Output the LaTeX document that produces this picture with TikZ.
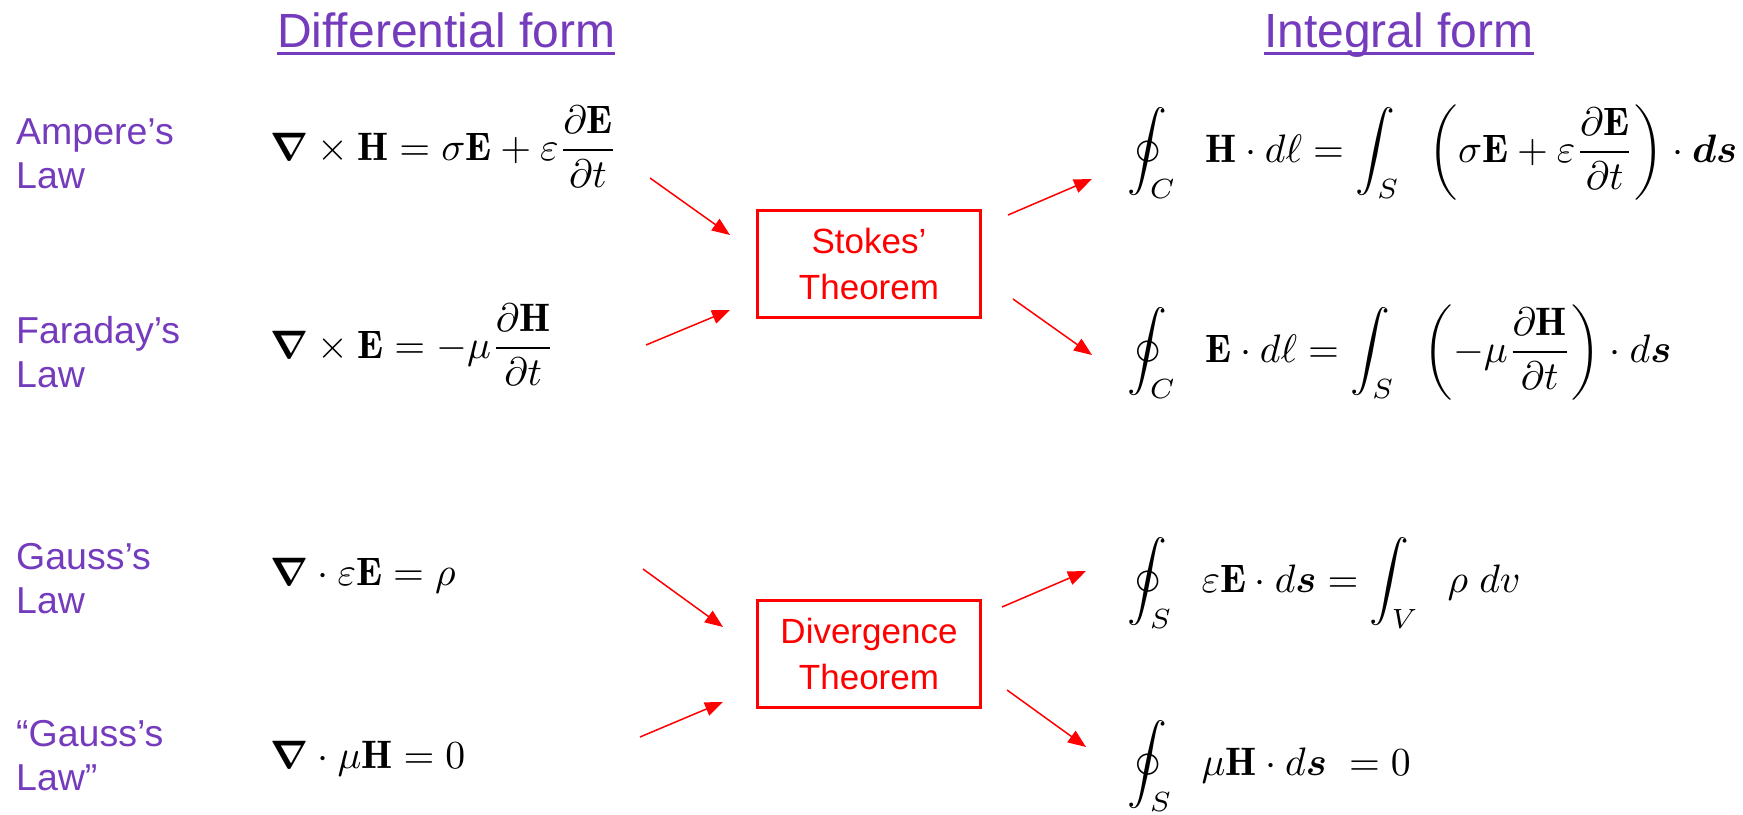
\documentclass[tikz,border=0pt]{standalone}
\usepackage{amsmath,bm}
\usepackage{fontspec}
\setsansfont{Liberation Sans}
\usepackage{tikz}
\usetikzlibrary{arrows.meta,positioning}
\definecolor{lawpurple}{RGB}{117,59,189}
\tikzset{
lawlabel/.style={font=\fontsize{37.5}{44}\selectfont\sffamily,text=lawpurple,align=left,inner sep=0pt,anchor=base west},
formhead/.style={font=\fontsize{48}{55}\selectfont\sffamily,text=lawpurple,inner sep=0pt,anchor=base west},
formline/.style={draw=lawpurple,line width=3pt},
eqn/.style={inner sep=0pt,anchor=base west,scale=3.97,transform shape},
thmbox/.style={rectangle,draw=red,line width=2.7pt,text=red,font=\fontsize{35}{46}\selectfont\sffamily,align=center,inner sep=0pt,minimum width=223pt,minimum height=107pt},
thmarr/.style={red,line width=1.5pt,-{Triangle[length=18pt,width=14pt]}}
}
\begin{document}
\begin{tikzpicture}[
x=1pt,
y=-1pt
]
\useasboundingbox (0,0) rectangle (1743,814);
% headings
\node[formhead] (diffhead) at (277,47) {Differential form};
\node[formhead] (inthead) at (1264,47) {Integral form};
\draw[formline] ([yshift=-6pt]diffhead.base west) -- ([yshift=-6pt]diffhead.base east);
\draw[formline] ([yshift=-6pt]inthead.base west) -- ([yshift=-6pt]inthead.base east);
% law names (base = last line)
\node[lawlabel] (ampere) at (16,188) {Ampere’s\\Law};
\node[lawlabel] (faraday) at (16,387) {Faraday’s\\Law};
\node[lawlabel] (gausse) at (16,613) {Gauss’s\\Law};
\node[lawlabel] (gaussh) at (16,790) {“Gauss’s\\Law”};
% differential form
\node[eqn] (ampdiff) at (270,160)
  {$\bm{\nabla}\times\mathbf{H}=\sigma\mathbf{E}+\varepsilon\dfrac{\partial\mathbf{E}}{\partial t}$};
\node[eqn] (fardiff) at (270,358)
  {$\bm{\nabla}\times\mathbf{E}=-\mu\dfrac{\partial\mathbf{H}}{\partial t}$};
\node[eqn] (gausediff) at (270,585)
  {$\bm{\nabla}\cdot\varepsilon\mathbf{E}=\rho$};
\node[eqn] (gausshdiff) at (270,768)
  {$\bm{\nabla}\cdot\mu\mathbf{H}=0$};
% integral form
\node[eqn] (ampint) at (1127,162)
  {$\displaystyle\oint_C\;\;\mathbf{H}\cdot d\ell=\int_S\;\;\left(\sigma\mathbf{E}+\varepsilon\frac{\partial\mathbf{E}}{\partial t}\right)\cdot\bm{ds}$};
\node[eqn] (farint) at (1127,362)
  {$\displaystyle\oint_C\;\;\mathbf{E}\cdot d\ell=\int_S\;\;\left(-\mu\frac{\partial\mathbf{H}}{\partial t}\right)\cdot d\bm{s}$};
\node[eqn] (gauseint) at (1127,592)
  {$\displaystyle\oint_S\;\;\varepsilon\mathbf{E}\cdot d\bm{s}=\int_V\;\;\rho\;dv$};
\node[eqn] (gausshint) at (1127,775)
  {$\displaystyle\oint_S\;\;\mu\mathbf{H}\cdot d\bm{s}\;=0$};
% theorems
\node[thmbox] (stokes) at (869,264) {Stokes’\\Theorem};
\node[thmbox] (diverg) at (869,654) {Divergence\\Theorem};
% arrow ends
\coordinate (s1a) at (650,178);  \coordinate (s1b) at (730,235);
\coordinate (s2a) at (646,345);  \coordinate (s2b) at (730,310);
\coordinate (s3a) at (1008,215); \coordinate (s3b) at (1092,179);
\coordinate (s4a) at (1013,299); \coordinate (s4b) at (1092,355);
\coordinate (d1a) at (643,569);  \coordinate (d1b) at (723,627);
\coordinate (d2a) at (640,737);  \coordinate (d2b) at (723,702);
\coordinate (d3a) at (1002,607); \coordinate (d3b) at (1086,571);
\coordinate (d4a) at (1007,690); \coordinate (d4b) at (1086,747);
\draw[thmarr] (s1a) -- (s1b);
\draw[thmarr] (s2a) -- (s2b);
\draw[thmarr] (s3a) -- (s3b);
\draw[thmarr] (s4a) -- (s4b);
\draw[thmarr] (d1a) -- (d1b);
\draw[thmarr] (d2a) -- (d2b);
\draw[thmarr] (d3a) -- (d3b);
\draw[thmarr] (d4a) -- (d4b);
\end{tikzpicture}
\end{document}
